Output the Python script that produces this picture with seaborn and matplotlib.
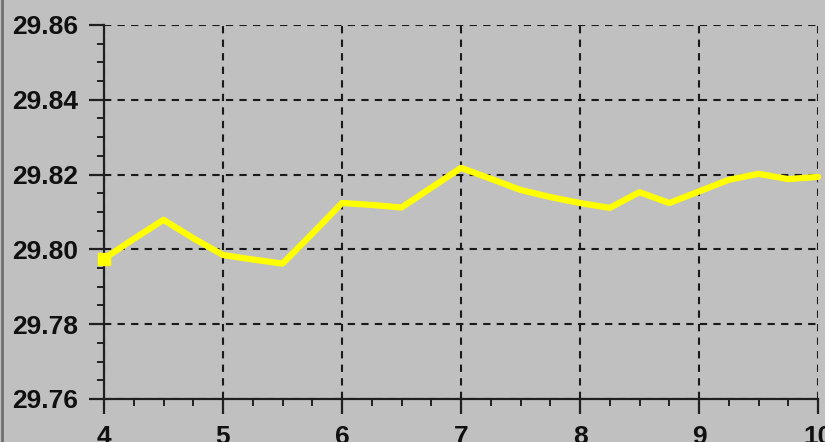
import numpy as np
import pandas as pd
import seaborn as sns
import matplotlib.pyplot as plt
from matplotlib.ticker import MultipleLocator
from matplotlib.lines import Line2D

# --- data ---
hours = [4.0, 4.25, 4.5, 4.75, 5.0, 5.25, 5.5, 5.75, 6.0, 6.25, 6.5, 6.75,
         7.0, 7.25, 7.5, 7.75, 8.0, 8.25, 8.5, 8.75, 9.0, 9.25, 9.5, 9.75, 10.0]
pressure = [29.7975, 29.8028, 29.8079, 29.8030, 29.7985, 29.7973, 29.7962, 29.8042,
            29.8124, 29.8119, 29.8112, 29.8165, 29.8218, 29.8189, 29.8159, 29.8140,
            29.8124, 29.8111, 29.8153, 29.8124, 29.8155, 29.8186, 29.8202, 29.8188, 29.8194]

df = pd.DataFrame({'x': hours, 'y': pressure})

sns.set_style('ticks')
plt.rcParams['font.family'] = ['Liberation Sans', 'DejaVu Sans']
bg = '#c0c0c0'

fig = plt.figure(figsize=(8.25, 4.42), dpi=100, facecolor=bg)
ax = fig.add_axes([104 / 825, 1 - 399 / 442, 714 / 825, 374 / 442])
ax.set_facecolor(bg)

sns.lineplot(data=df, x='x', y='y', ax=ax, color='#ffff00', linewidth=4.5,
             clip_on=False, zorder=5)
# chunky dot at the first sample
ax.plot(hours[:1], pressure[:1], marker='s', markersize=9, color='#ffff00',
        clip_on=False, zorder=6)

ax.set_xlim(4, 10)
ax.set_ylim(29.76, 29.86)
ax.xaxis.set_major_locator(MultipleLocator(1))
ax.xaxis.set_minor_locator(MultipleLocator(0.25))
ax.yaxis.set_major_locator(MultipleLocator(0.02))
ax.yaxis.set_minor_locator(MultipleLocator(0.005))
ax.yaxis.set_major_formatter(plt.FuncFormatter(lambda v, p: f'{v:.2f}'))
ax.set_xlabel('')
ax.set_ylabel('')

ax.grid(True, which='major', color='#1a1a1a', linestyle=(0, (3.5, 3)), linewidth=1.5)
ax.set_axisbelow(True)

for s in ['top', 'right']:
    ax.spines[s].set_visible(False)
for s in ['left', 'bottom']:
    ax.spines[s].set_color('#202020')
    ax.spines[s].set_linewidth(1.6)

ax.tick_params(which='major', direction='out', length=10.5, width=1.6, color='#202020',
               labelsize=19, pad=8)
ax.tick_params(which='minor', direction='out', length=5, width=1.4, color='#202020')
for lab in ax.get_xticklabels() + ax.get_yticklabels():
    lab.set_fontweight('bold')
    lab.set_color('#101010')

# window border on the left edge
fig.add_artist(Line2D([1.5 / 825, 1.5 / 825], [0, 1], transform=fig.transFigure,
                      color='#707070', linewidth=2))

fig.savefig('out.png', dpi=100, facecolor=bg)
